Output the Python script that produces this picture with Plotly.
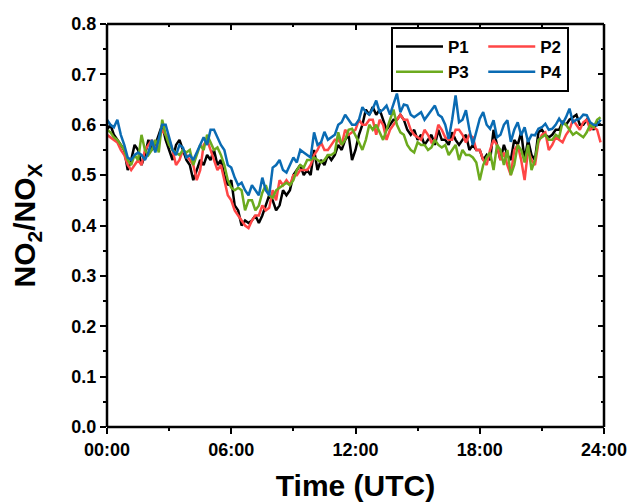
import plotly.graph_objects as go

# time in hours, 10-minute resolution
time_h = [i / 6 for i in range(144)]

p1 = [0.59, 0.60, 0.58, 0.57, 0.56, 0.55,
      0.51, 0.53, 0.56, 0.55, 0.52, 0.54,
      0.57, 0.55, 0.56, 0.58, 0.60, 0.57,
      0.55, 0.53, 0.56, 0.57, 0.55, 0.53,
      0.52, 0.49, 0.51, 0.53, 0.52, 0.54,
      0.53, 0.55, 0.52, 0.53, 0.50, 0.48,
      0.49, 0.44, 0.43, 0.40, 0.41, 0.405,
      0.41, 0.42, 0.405, 0.42, 0.44, 0.46,
      0.45, 0.43, 0.44, 0.47, 0.46, 0.47,
      0.50, 0.51, 0.52, 0.50, 0.51, 0.50,
      0.55, 0.51, 0.53, 0.52, 0.54, 0.53,
      0.54, 0.56, 0.55, 0.57, 0.58, 0.53,
      0.55, 0.58, 0.60, 0.63, 0.62, 0.635,
      0.62, 0.63, 0.61, 0.59, 0.60, 0.61,
      0.61, 0.62, 0.61, 0.59, 0.58, 0.59,
      0.57, 0.58, 0.56, 0.57, 0.58, 0.56,
      0.59, 0.57, 0.57, 0.56, 0.585, 0.57,
      0.56, 0.57, 0.58, 0.55, 0.56, 0.55,
      0.55, 0.53, 0.54, 0.53, 0.59, 0.56,
      0.53, 0.56, 0.54, 0.53, 0.57, 0.56,
      0.585, 0.53, 0.57, 0.54, 0.53, 0.585,
      0.59, 0.58, 0.575, 0.58, 0.59, 0.59,
      0.605, 0.60, 0.61, 0.615, 0.62, 0.60,
      0.60, 0.61, 0.60, 0.59, 0.605, 0.60]

p2 = [0.58, 0.575, 0.57, 0.565, 0.55, 0.54,
      0.52, 0.51, 0.52, 0.53, 0.52, 0.55,
      0.56, 0.57, 0.55, 0.57, 0.59, 0.58,
      0.57, 0.55, 0.52, 0.53, 0.55, 0.54,
      0.53, 0.52, 0.49, 0.51, 0.56, 0.57,
      0.55, 0.53, 0.51, 0.52, 0.49, 0.46,
      0.45, 0.43, 0.42, 0.41, 0.40, 0.395,
      0.41, 0.42, 0.42, 0.44, 0.43, 0.435,
      0.47, 0.45, 0.49, 0.48, 0.49, 0.48,
      0.50, 0.50, 0.51, 0.51, 0.51, 0.52,
      0.54, 0.55, 0.565, 0.55, 0.55, 0.56,
      0.57, 0.57, 0.56, 0.59, 0.58, 0.585,
      0.59, 0.61, 0.60, 0.60, 0.61, 0.61,
      0.58, 0.61, 0.60, 0.57, 0.59, 0.60,
      0.61, 0.62, 0.61, 0.61, 0.59, 0.58,
      0.575, 0.57, 0.59, 0.58, 0.565, 0.57,
      0.60, 0.59, 0.575, 0.57, 0.57, 0.59,
      0.59, 0.58, 0.565, 0.58, 0.575, 0.55,
      0.55, 0.53, 0.52, 0.55, 0.57, 0.56,
      0.53, 0.545, 0.52, 0.50, 0.55, 0.56,
      0.53, 0.49, 0.55, 0.53, 0.52, 0.565,
      0.58, 0.585, 0.55, 0.56, 0.575, 0.57,
      0.565, 0.58, 0.59, 0.61, 0.60, 0.59,
      0.605, 0.61, 0.59, 0.595, 0.59, 0.565]

p3 = [0.59, 0.585, 0.575, 0.57, 0.56, 0.55,
      0.53, 0.52, 0.54, 0.53, 0.58, 0.55,
      0.54, 0.55, 0.57, 0.545, 0.61, 0.58,
      0.56, 0.55, 0.545, 0.54, 0.55, 0.545,
      0.55, 0.52, 0.54, 0.56, 0.55, 0.58,
      0.565, 0.55, 0.555, 0.54, 0.52, 0.49,
      0.475, 0.47, 0.475, 0.47, 0.43, 0.45,
      0.45, 0.43, 0.44, 0.465, 0.48, 0.46,
      0.455, 0.47, 0.475, 0.48, 0.485, 0.48,
      0.49, 0.51, 0.52, 0.515, 0.53, 0.53,
      0.535, 0.53, 0.525, 0.53, 0.54, 0.54,
      0.545, 0.585, 0.56, 0.57, 0.59, 0.592,
      0.58, 0.565, 0.55, 0.57, 0.60, 0.59,
      0.60, 0.585, 0.57, 0.59, 0.61, 0.63,
      0.60, 0.585, 0.58, 0.56, 0.55, 0.545,
      0.565, 0.56, 0.56, 0.55, 0.555, 0.57,
      0.56, 0.555, 0.56, 0.54, 0.55, 0.56,
      0.53, 0.55, 0.54, 0.54, 0.535, 0.525,
      0.49, 0.52, 0.535, 0.545, 0.51, 0.56,
      0.55, 0.52, 0.55, 0.50, 0.52, 0.56,
      0.55, 0.525, 0.56, 0.51, 0.53, 0.57,
      0.575, 0.58, 0.57, 0.57, 0.58, 0.575,
      0.605, 0.60, 0.59, 0.58, 0.585, 0.58,
      0.575, 0.585, 0.60, 0.595, 0.61, 0.615]

p4 = [0.61, 0.60, 0.595, 0.61, 0.58, 0.56,
      0.535, 0.53, 0.54, 0.545, 0.54, 0.53,
      0.545, 0.57, 0.545, 0.57, 0.60, 0.60,
      0.575, 0.55, 0.54, 0.56, 0.555, 0.535,
      0.54, 0.53, 0.545, 0.56, 0.575, 0.56,
      0.59, 0.59, 0.575, 0.56, 0.55, 0.52,
      0.515, 0.495, 0.48, 0.485, 0.47, 0.46,
      0.48, 0.47, 0.46, 0.495, 0.47, 0.46,
      0.515, 0.52, 0.53, 0.51, 0.505, 0.52,
      0.535, 0.525, 0.55, 0.545, 0.54, 0.535,
      0.585, 0.56, 0.565, 0.586, 0.57, 0.575,
      0.58, 0.60, 0.605, 0.62, 0.61, 0.60,
      0.60, 0.61, 0.635, 0.625, 0.62, 0.632,
      0.648, 0.625, 0.63, 0.638, 0.62, 0.64,
      0.662, 0.625, 0.64, 0.638, 0.62, 0.615,
      0.62, 0.625, 0.61, 0.619, 0.63, 0.638,
      0.62, 0.615, 0.60, 0.572, 0.61, 0.658,
      0.605, 0.61, 0.629, 0.59, 0.56, 0.585,
      0.612, 0.625, 0.60, 0.592, 0.609, 0.575,
      0.58, 0.60, 0.609, 0.566, 0.59, 0.605,
      0.579, 0.595, 0.566, 0.58, 0.579, 0.592,
      0.595, 0.602, 0.59, 0.592, 0.60, 0.612,
      0.602, 0.615, 0.632, 0.605, 0.61, 0.612,
      0.62, 0.619, 0.605, 0.60, 0.599, 0.61]

series_names = ["P1", "P2", "P3", "P4"]
series_values = [p1, p2, p3, p4]
colors = ["#000000", "#FF4646", "#6CAA1E", "#0A6BB3"]
legend_groups = ["c1", "c2", "c1", "c2"]
# trailing no-break spaces widen the first legend column
legend_pad = ["\u00a0\u00a0", "", "\u00a0\u00a0", ""]

x_tickvals = [0, 6, 12, 18, 24]
x_ticktext = ["00:00", "06:00", "12:00", "18:00", "24:00"]

FONT = "Liberation Sans, Arial, sans-serif"

fig = go.Figure()
for name, vals, col, grp, pad in zip(series_names, series_values, colors,
                                     legend_groups, legend_pad):
    fig.add_trace(go.Scatter(x=time_h, y=vals, mode="lines", name=name + pad,
                             legendgroup=grp,
                             line=dict(color=col, width=2.5)))

# invisible trace so the top/right tick axes exist
fig.add_trace(go.Scatter(x=[None], y=[None], xaxis="x2", yaxis="y2",
                         showlegend=False, hoverinfo="skip"))

tick_common = dict(tickwidth=2, tickcolor="black", showgrid=False,
                   zeroline=False, automargin=False, showline=False)

fig.update_layout(
    width=631, height=502,
    margin=dict(l=107, r=27, t=24, b=75),
    plot_bgcolor="white", paper_bgcolor="white",
    font=dict(family=FONT, size=18, color="black"),
    xaxis=dict(range=[0, 24], tickmode="array", tickvals=x_tickvals,
               ticktext=x_ticktext, ticks="outside", ticklen=6,
               minor=dict(tick0=0, dtick=3, ticks="outside", ticklen=3,
                          tickwidth=2, tickcolor="black", showgrid=False),
               title=dict(text="Time (UTC)",
                          font=dict(size=30, weight="bold"), standoff=24),
               tickfont=dict(size=18, weight="bold"), **tick_common),
    yaxis=dict(range=[0, 0.8], tickmode="linear", tick0=0, dtick=0.1,
               tickformat=".1f", ticks="outside", ticklen=6,
               minor=dict(tick0=0, dtick=0.05, ticks="outside", ticklen=3,
                          tickwidth=2, tickcolor="black", showgrid=False),
               title=dict(text="NO<sub>2</sub>/NO<sub>X</sub>",
                          font=dict(size=30, weight="bold"), standoff=26),
               tickfont=dict(size=18, weight="bold"), **tick_common),
    xaxis2=dict(range=[0, 24], overlaying="x", anchor="y", side="top",
                tickmode="array", tickvals=x_tickvals, ticks="inside",
                ticklen=6, showticklabels=False,
                minor=dict(tick0=0, dtick=3, ticks="inside", ticklen=3,
                           tickwidth=2, tickcolor="black", showgrid=False),
                **tick_common),
    yaxis2=dict(range=[0, 0.8], overlaying="y", anchor="x", side="right",
                tickmode="linear", tick0=0, dtick=0.1, ticks="inside",
                ticklen=6, showticklabels=False,
                minor=dict(tick0=0, dtick=0.05, ticks="inside", ticklen=3,
                           tickwidth=2, tickcolor="black", showgrid=False),
                **tick_common),
    legend=dict(x=(391 - 107) / 497, y=(427 - 27) / 403,
                xanchor="left", yanchor="top", orientation="h",
                bgcolor="white", bordercolor="black", borderwidth=2,
                itemwidth=47, tracegroupgap=0,
                font=dict(size=17, weight="bold")),
    shapes=[
        dict(type="line", xref="paper", yref="paper", x0=0, x1=1, y0=0, y1=0,
             line=dict(color="black", width=2.5), layer="above"),
        dict(type="line", xref="paper", yref="paper", x0=0, x1=1, y0=1, y1=1,
             line=dict(color="black", width=2.5), layer="above"),
        dict(type="line", xref="paper", yref="paper", x0=0, x1=0, y0=0, y1=1,
             line=dict(color="black", width=2.5), layer="above"),
        dict(type="line", xref="paper", yref="paper", x0=1, x1=1, y0=0, y1=1,
             line=dict(color="black", width=2.5), layer="above"),
    ],
)

fig.write_html("out.html")
